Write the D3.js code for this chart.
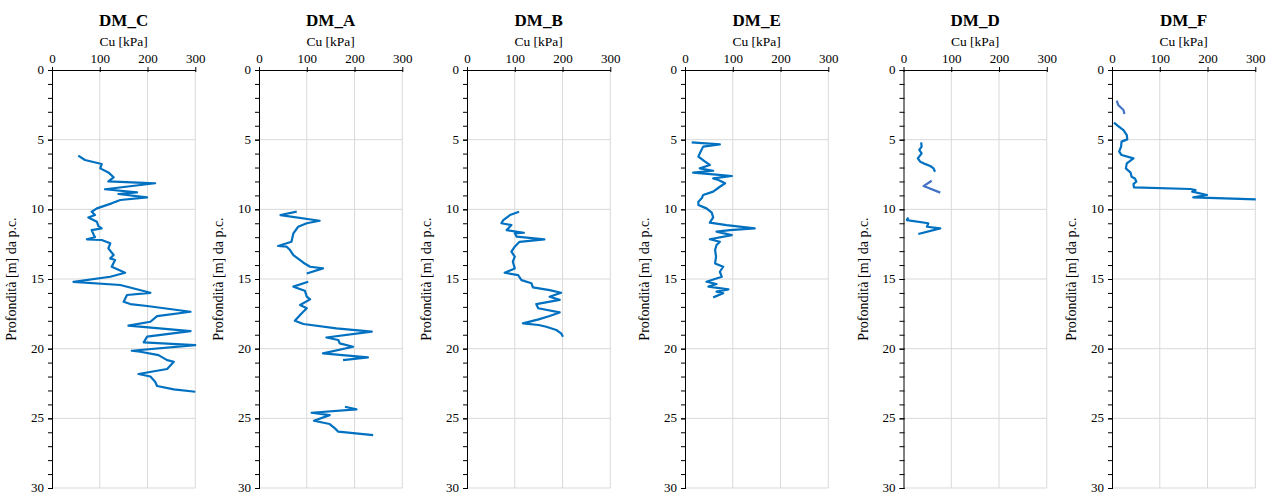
<!DOCTYPE html>
<html>
<head>
<meta charset="utf-8">
<script src="https://cdn.jsdelivr.net/npm/d3@7"></script>
<style>
  html, body { margin: 0; padding: 0; background: #fff; }
  svg { display: block; }
  svg text { font-family: "Liberation Serif", "Times New Roman", serif !important; fill: #000; }
</style>
</head>
<body>
<svg id="chart" width="1270" height="494"></svg>
<script>
// ---------- DATA ----------
const panelTitles = ["DM_C", "DM_A", "DM_B", "DM_E", "DM_D", "DM_F"];
const xTicks = [0, 100, 200, 300];
const yTicks = [0, 5, 10, 15, 20, 25, 30];
const xLabel = "Cu [kPa]";
const yLabel = "Profondità [m] da p.c.";

// DM_C
const dmC_depth = [6.15, 6.46, 6.75, 7.06, 7.35, 7.7, 8.0, 8.13, 8.56, 8.78, 8.9, 9.14, 9.33, 9.57, 9.93, 10.17, 10.41, 10.58, 10.89, 11.2, 11.37, 11.49, 11.8, 12.0, 12.15, 12.2, 12.44, 12.8, 13.28, 13.52, 13.64, 14.12, 14.55, 14.84, 15.2, 15.43, 15.99, 16.15, 16.63, 16.8, 16.94, 17.35, 17.66, 18.07, 18.35, 18.74, 19.14, 19.55, 19.74, 20.15, 20.22, 20.46, 20.82, 20.94, 21.46, 21.82, 22.0, 22.37, 22.68, 22.92, 23.09];
const dmC_cu    = [55, 69, 104, 101, 118, 129, 118, 216, 111, 178, 139, 199, 143, 125, 94, 83, 90, 76, 94, 97, 104, 83, 87, 90, 73, 104, 122, 118, 129, 122, 132, 125, 153, 122, 45, 143, 206, 157, 150, 164, 199, 290, 220, 206, 160, 290, 199, 192, 300, 167, 185, 223, 241, 255, 241, 181, 206, 216, 220, 255, 300];

// DM_A (null = gap in the record)
const dmA_depth = [10.17, 10.41, 10.82, 11.0, 11.25, 11.72, 12.33, 12.63, 12.68, 12.92, 13.28, 13.64, 13.83, 14.12, 14.24, 14.6, null, 15.2, 15.55, 15.84, 16.27, 16.46, 16.87, 17.1, 17.47, 18.0, 18.23, 18.55, 18.78, 19.2, 19.38, 19.62, 19.86, 20.34, 20.63, 20.82, null, 24.17, 24.36, 24.6, 24.77, 25.17, 25.41, 25.72, 25.96, 26.2];
const dmA_cu    = [79, 45, 127, 100, 82, 72, 68, 40, 58, 65, 72, 86, 93, 107, 134, 100, null, 103, 72, 96, 100, 107, 86, 100, 89, 75, 93, 162, 236, 141, 166, 169, 197, 134, 228, 176, null, 180, 204, 110, 148, 115, 148, 159, 166, 239];

// DM_B
const dmB_depth = [10.17, 10.41, 10.77, 11.0, 11.13, 11.49, 11.68, 11.72, 11.96, 12.16, 12.33, 12.68, 13.04, 13.4, 13.76, 14.24, 14.55, 14.72, 15.08, 15.31, 15.6, 15.8, 15.99, 16.27, 16.5, 16.8, 17.1, 17.4, 17.66, 17.9, 18.18, 18.3, 18.43, 18.66, 18.9, 19.14];
const dmB_cu    = [109, 90, 76, 72, 93, 83, 119, 100, 104, 162, 110, 100, 93, 100, 96, 100, 79, 107, 114, 135, 138, 173, 197, 173, 194, 145, 149, 194, 173, 150, 117, 150, 166, 187, 197, 201];

// DM_E
const dmE_depth = [5.19, 5.34, 5.5, 5.98, 6.22, 6.58, 6.82, 7.06, 7.23, 7.37, 7.54, 7.61, 7.78, 7.9, 8.13, 8.38, 8.73, 8.97, 9.21, 9.45, 9.69, 9.93, 10.24, 10.58, 10.96, 11.13, 11.37, 11.49, 11.6, 11.85, 12.15, 12.33, 12.56, 12.92, 13.4, 13.88, 14.12, 14.48, 14.84, 15.2, 15.36, 15.55, 15.74, 15.91, 16.03, 16.32];
const dmE_cu    = [14, 73, 38, 31, 28, 42, 52, 31, 59, 17, 77, 98, 59, 70, 84, 73, 59, 38, 35, 28, 28, 45, 56, 59, 52, 87, 146, 94, 66, 98, 52, 73, 66, 63, 65, 63, 80, 73, 77, 45, 66, 49, 91, 66, 80, 59];

// DM_D (main series, two runs) and secondary series
const dmD_depth = [5.19, 5.5, 5.74, 5.98, 6.34, 6.58, 6.7, 6.89, 7.06, 7.3, null, 10.58, 10.77, 11.0, 11.25, 11.37, 11.77];
const dmD_cu    = [37, 38, 33, 38, 30, 35, 42, 56, 63, 66, null, 10, 7, 52, 49, 77, 31];
const dmD2_depth = [7.95, 8.33, 8.8];
const dmD2_cu    = [59, 42, 77];

// DM_F (main series) and secondary series
const dmF_depth = [3.78, 4.02, 4.31, 4.67, 4.98, 5.14, 5.5, 5.86, 6.1, 6.34, 6.7, 7.06, 7.37, 7.66, 7.78, 8.02, 8.18, 8.42, 8.54, 8.61, 8.73, 8.97, 9.14, 9.28];
const dmF_cu    = [4, 13, 24, 31, 32, 20, 19, 15, 20, 45, 31, 29, 39, 41, 48, 51, 45, 46, 164, 175, 168, 199, 170, 301];
const dmF2_depth = [2.2, 2.51, 2.87, 3.16];
const dmF2_cu    = [10, 13, 24, 26];

// ---------- LAYOUT ----------
const panelLeft = [52, 259, 467, 685, 903.5, 1112];
const plotW = 143.3;
const plotTop = 70, plotBottom = 488;
const mainColor = "#0070C0";
const secondColor = "#4472C4";
const serif = "Liberation Serif, Times New Roman, serif";

const panels = [
  [{d: dmC_depth, v: dmC_cu, c: mainColor}],
  [{d: dmA_depth, v: dmA_cu, c: mainColor}],
  [{d: dmB_depth, v: dmB_cu, c: mainColor}],
  [{d: dmE_depth, v: dmE_cu, c: mainColor}],
  [{d: dmD_depth, v: dmD_cu, c: mainColor}, {d: dmD2_depth, v: dmD2_cu, c: secondColor}],
  [{d: dmF_depth, v: dmF_cu, c: mainColor}, {d: dmF2_depth, v: dmF2_cu, c: secondColor}]
];

const svg = d3.select("#chart");
const y = d3.scaleLinear().domain([0, 30]).range([plotTop, plotBottom]);

panels.forEach((series, i) => {
  const left = panelLeft[i];
  const x = d3.scaleLinear().domain([0, 300]).range([left, left + plotW]);
  const g = svg.append("g");

  // gridlines
  g.selectAll(".vg").data(xTicks.slice(1)).enter().append("line")
    .attr("x1", d => x(d)).attr("x2", d => x(d))
    .attr("y1", plotTop).attr("y2", plotBottom)
    .attr("stroke", "#D9D9D9").attr("stroke-width", 1);
  g.selectAll(".hg").data(yTicks.slice(1)).enter().append("line")
    .attr("x1", left).attr("x2", left + plotW)
    .attr("y1", d => y(d)).attr("y2", d => y(d))
    .attr("stroke", "#D9D9D9").attr("stroke-width", 1);

  // top axis
  const xAxis = d3.axisTop(x).tickValues(xTicks).tickSize(3).tickSizeOuter(0);
  const gx = g.append("g").attr("transform", `translate(0,${plotTop})`).call(xAxis)
    .attr("font-family", serif).attr("font-size", 13);
  gx.select(".domain").attr("stroke", "#000");
  gx.selectAll(".tick line").attr("y1", 2).attr("y2", -3).attr("stroke", "#000");
  gx.selectAll(".tick text").attr("y", -7).attr("fill", "#000");

  // left axis (minor ticks every 1 m)
  const yAxisMinor = d3.axisLeft(y).ticks(30).tickSize(4).tickSizeOuter(0).tickFormat("");
  const gyMinor = g.append("g").attr("transform", `translate(${left},0)`).call(yAxisMinor);
  gyMinor.select(".domain").remove();
  gyMinor.selectAll(".tick line").attr("x2", -4).attr("x1", 1).attr("stroke", "#000");

  const yAxis = d3.axisLeft(y).tickValues(yTicks).tickSize(4).tickSizeOuter(0);
  const gy = g.append("g").attr("transform", `translate(${left},0)`).call(yAxis)
    .attr("font-family", serif).attr("font-size", 13);
  gy.select(".domain").attr("stroke", "#000");
  gy.selectAll(".tick line").attr("x1", 1).attr("x2", -4).attr("stroke", "#000");
  gy.selectAll(".tick text").attr("x", -8).attr("dy", "0.28em").attr("fill", "#000");

  // series lines
  series.forEach(s => {
    const pts = s.d.map((dd, k) => [s.v[k], dd]);
    const line = d3.line()
      .defined(p => p[0] != null && p[1] != null)
      .x(p => x(p[0])).y(p => y(p[1]));
    g.append("path").datum(pts)
      .attr("d", line)
      .attr("fill", "none")
      .attr("stroke", s.c)
      .attr("stroke-width", 2.2)
      .attr("stroke-linejoin", "round");
  });

  // titles and labels
  const cx = left + plotW / 2;
  g.append("text").attr("x", cx).attr("y", 26).attr("text-anchor", "middle")
    .attr("font-family", serif).attr("font-size", 17).attr("font-weight", "bold").text(panelTitles[i]);
  g.append("text").attr("x", cx).attr("y", 46).attr("text-anchor", "middle")
    .attr("font-family", serif).attr("font-size", 13.5).text(xLabel);
  g.append("text")
    .attr("transform", `translate(${left - 36},${(plotTop + plotBottom) / 2}) rotate(-90)`)
    .attr("text-anchor", "middle")
    .attr("font-family", serif).attr("font-size", 14).text(yLabel);
});
</script>
</body>
</html>
